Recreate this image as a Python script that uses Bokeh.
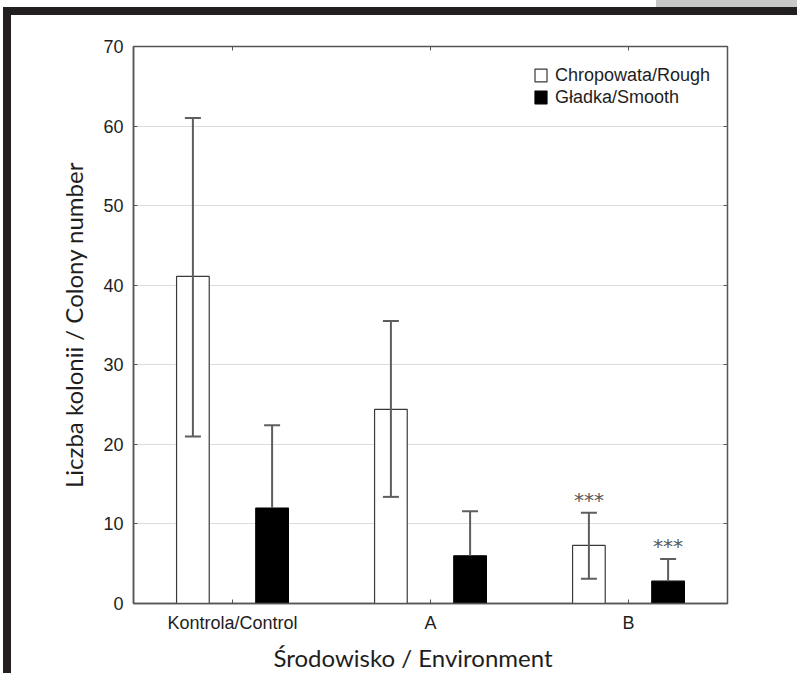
from bokeh.plotting import figure
from bokeh.models import (ColumnDataSource, FactorRange, Range1d, Whisker, TeeHead, Title,
                          Legend, LegendItem, LinearAxis, CategoricalAxis, FixedTicker, Div)
from bokeh.transform import dodge
from bokeh.layouts import column, row
from bokeh.core.properties import value
from bokeh.embed import file_html
from bokeh.resources import INLINE

# ---- data ----
categories = ["Kontrola/Control", "A", "B"]
rough_mean = [41.1, 24.4, 7.3]
rough_upper = [61.0, 35.5, 11.4]
rough_lower = [21.0, 13.4, 3.1]
smooth_mean = [12.0, 6.0, 2.8]
smooth_upper = [22.4, 11.6, 5.6]
significance = ["", "", "***"]
y_ticks = [0, 10, 20, 30, 40, 50, 60, 70]
series_labels = ["Chropowata/Rough", "Gładka/Smooth"]
x_title = "Środowisko / Environment"
y_title = "Liczba kolonii / Colony number"

src = ColumnDataSource(dict(
    cat=categories,
    rough=rough_mean, rough_up=rough_upper, rough_lo=rough_lower,
    smooth=smooth_mean, smooth_up=smooth_upper,
    sig=significance,
))

GREY = "#5e5e5e"
FRAME = "#555555"
TICKFONT = "Liberation Sans"
LABFONT = "Lato"

p = figure(x_range=FactorRange(*categories), y_range=Range1d(0, 70),
           frame_width=594, frame_height=557,
           min_border_left=122, min_border_right=62, min_border_top=31, min_border_bottom=70,
           output_backend="svg", toolbar_location=None, title=None)

p.background_fill_color = "white"
p.border_fill_color = "white"
p.outline_line_color = FRAME
p.outline_line_width = 1.5

off = 0.2
bw = 0.165
r1 = p.vbar(x=dodge("cat", -off, range=p.x_range), top="rough", width=bw, bottom=0,
            source=src, fill_color="white", line_color="#3a3a3a", line_width=1.2)
r2 = p.vbar(x=dodge("cat", off, range=p.x_range), top="smooth", width=bw, bottom=0,
            source=src, fill_color="black", line_color="black", line_width=1.2)

w1 = Whisker(base=dodge("cat", -off, range=p.x_range), upper="rough_up", lower="rough_lo",
             source=src, line_color=GREY, line_width=2,
             upper_head=TeeHead(size=16, line_color=GREY, line_width=2),
             lower_head=TeeHead(size=16, line_color=GREY, line_width=2), level="overlay")
w2 = Whisker(base=dodge("cat", off, range=p.x_range), upper="smooth_up", lower="smooth",
             source=src, line_color=GREY, line_width=2,
             upper_head=TeeHead(size=16, line_color=GREY, line_width=2),
             lower_head=None, level="overlay")
p.add_layout(w1)
p.add_layout(w2)

STARFONT = "DejaVu Sans"
for xoff, ycol in ((-off, "rough_up"), (off, "smooth_up")):
    p.text(x=dodge("cat", xoff, range=p.x_range), y=ycol, text="sig", source=src,
           text_align="center", text_baseline="alphabetic", y_offset=-13,
           text_font=value(STARFONT), text_font_size="20px", text_color="#555555")

# axes
p.xgrid.grid_line_color = None
p.ygrid.ticker = FixedTicker(ticks=y_ticks[1:-1])
p.ygrid.grid_line_color = "#dcdcdc"
p.ygrid.grid_line_width = 1

ya = p.yaxis[0]
ya.ticker = FixedTicker(ticks=y_ticks)
ya.axis_label = y_title
xa = p.xaxis[0]
for ax in (xa, ya):
    ax.axis_line_color = FRAME
    ax.axis_line_width = 1.5
    ax.major_tick_line_color = FRAME
    ax.major_tick_in = 4
    ax.major_tick_out = 0
    ax.minor_tick_line_color = None
    ax.major_label_text_font = TICKFONT
    ax.major_label_text_font_size = "18px"
    ax.major_label_text_color = "#1e1e1e"
    ax.axis_label_text_font = LABFONT
    ax.axis_label_text_font_size = "24px"
    ax.axis_label_text_font_style = "normal"
    ax.axis_label_text_color = "#1e1e1e"
ya.major_label_standoff = 10
ya.axis_label_standoff = 12
xa.major_label_standoff = 9

xt = Title(text=x_title, align="left", offset=140, standoff=10,
           text_font=LABFONT, text_font_size="24px", text_font_style="normal",
           text_color="#1e1e1e")
p.add_layout(xt, "below")

ra = LinearAxis(ticker=FixedTicker(ticks=y_ticks), major_label_text_color=None,
                major_label_standoff=0, axis_line_color=None, major_tick_in=4, major_tick_out=0,
                major_tick_line_color=FRAME, minor_tick_line_color=None)
p.add_layout(ra, "right")
ta = CategoricalAxis(major_label_text_color=None, major_label_standoff=0,
                     axis_line_color=None, major_tick_in=4, major_tick_out=0,
                     major_tick_line_color=FRAME)
p.add_layout(ta, "above")

legend = Legend(items=[LegendItem(label=series_labels[0], renderers=[r1]),
                       LegendItem(label=series_labels[1], renderers=[r2])],
                location=(400, 495), border_line_color=None, background_fill_alpha=0,
                label_text_font=TICKFONT, label_text_font_size="18px",
                label_text_color="#1e1e1e", glyph_width=15, glyph_height=16,
                label_height=22, spacing=0, padding=6, margin=0, label_standoff=7)
p.add_layout(legend)

BLACK = "#231f20"
W = 797
grey_row = row(Div(text="", width=656, height=7, margin=(0, 0, 0, 0)),
               Div(text="", width=W - 656, height=7, margin=(0, 0, 0, 0),
                   styles={"background-color": "#c8c8c8"}), spacing=0)
black_row = row(Div(text="", width=3, height=8, margin=(0, 0, 0, 0)),
                Div(text="", width=W - 3, height=8, margin=(0, 0, 0, 0),
                    styles={"background-color": BLACK}), spacing=0)
main_row = row(Div(text="", width=3, height=658, margin=(0, 0, 0, 0)),
               Div(text="", width=8, height=658, margin=(0, 0, 0, 0),
                   styles={"background-color": BLACK}),
               p, spacing=0)
layout = column(grey_row, black_row, main_row, spacing=0)

open("out.html", "w").write(file_html(layout, INLINE))
